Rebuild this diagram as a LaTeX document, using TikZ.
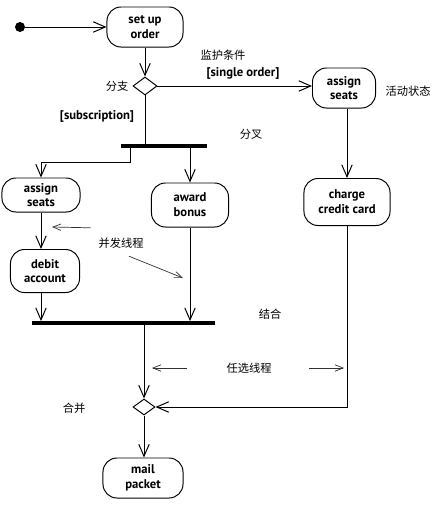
\documentclass[tikz,border=0pt]{standalone}
\usepackage{fontspec}
\setmainfont{PT Sans}
\newfontfamily\cjk{Noto Sans CJK SC}
\usetikzlibrary{arrows.meta,shapes.geometric}
\tikzset{
  act/.style={draw,rounded corners=3.5mm,align=center,inner sep=1pt,line width=0.7pt,
              font=\bfseries\fontsize{9}{10.5}\selectfont},
  choice/.style={draw,diamond,minimum width=6mm,minimum height=4.5mm,inner sep=0pt,line width=0.7pt},
  bar/.style={fill=black,minimum height=0.8mm,inner sep=0pt},
  startdot/.style={circle,fill=black,minimum size=2.5mm,inner sep=0pt},
  flow/.style={-{Straight Barb[length=3mm,width=2.6mm]},line width=0.7pt},
  line/.style={line width=0.7pt},
  note/.style={-{Straight Barb[length=2mm,width=1.6mm]},line width=0.5pt,black!80},
  guard/.style={font=\bfseries\fontsize{9}{10.5}\selectfont},
  cn/.style={font=\cjk\fontsize{8}{9}\selectfont},
}
\begin{document}
\begin{tikzpicture}[x=0.025cm,y=-0.025cm]
  \useasboundingbox (0,0) rectangle (436,521);
  % activity states
  \node[startdot] (start) at (20,27) {};
  \node[act,minimum width=19mm,minimum height=10mm] (setup) at (145,27) {set up\\order};
  \node[choice] (branch) at (145,86) {};
  \node[act,minimum width=15.75mm,minimum height=10mm] (seatsA) at (344,88) {assign\\seats};
  \node[act,minimum width=21.5mm,minimum height=11.75mm] (charge) at (347,202) {charge\\credit card};
  \node[bar,minimum width=21.5mm] (fork) at (164,146) {};
  \node[act,minimum width=19.5mm,minimum height=8.5mm] (seatsB) at (41,195) {assign\\seats};
  \node[act,minimum width=17.25mm,minimum height=10.75mm] (debit) at (45,271) {debit\\account};
  \node[act,minimum width=19.25mm,minimum height=11mm] (award) at (190,205) {award\\bonus};
  \node[bar,minimum width=45.75mm] (join) at (123.5,323) {};
  \node[choice,minimum width=5.5mm,minimum height=4mm] (merge) at (144,407) {};
  \node[act,minimum width=20mm,minimum height=10mm] (mail) at (143,478) {mail\\packet};
  % labels
  \node[cn] (branchlab) at (117,86) {分支};
  \node[cn] (guardlab) at (223,55) {监护条件};
  \node[guard] (single) at (243,73) {[single order]};
  \node[guard] (subscr) at (97,116) {[subscription]};
  \node[cn] (actlab) at (408,91) {活动状态};
  \node[cn] (forklab) at (251,134) {分叉};
  \node[cn] (conc) at (121,243) {并发线程};
  \node[cn] (joinlab) at (270,314) {结合};
  \node[cn] (alt) at (249,368) {任选线程};
  \node[cn] (mergelab) at (74,408) {合并};
  % transitions
  \draw[flow] (start) -- (setup);
  \draw[flow] (setup) -- (branch);
  \draw[flow] (branch.east) -- (branch.east -| seatsA.west);
  \draw[line] (branch.south) -- (branch |- fork.north);
  \coordinate (forkL) at (130,146);
  \draw[flow] (forkL) -- ++(0,16) -| (seatsB);
  \draw[flow] (fork.south -| award) -- (award);
  \draw[flow] (seatsB) -- (seatsB |- debit.north);
  \draw[flow] (seatsB |- debit.south) -- (seatsB |- join.north);
  \draw[flow] (award) -- (award |- join.north);
  \draw[flow] (charge |- seatsA.south) -- (charge);
  \draw[flow] (join.south -| merge) -- (merge);
  \draw[flow] (charge) |- (merge);
  \draw[flow] (merge) -- (merge |- mail.north);
  % notes
  \coordinate (concA) at (52,227);
  \coordinate (concB) at (183,278);
  \draw[note] (conc.north west) ++(-3,-5) -- (concA);
  \draw[note] (conc.south) ++(8,3) -- (concB);
  \coordinate (altL) at (152,368);
  \coordinate (altR) at (344,368);
  \draw[note] (alt.west) ++(-35,0) -- (altL);
  \draw[note] (alt.east) ++(33,0) -- (altR);
\end{tikzpicture}
\end{document}
